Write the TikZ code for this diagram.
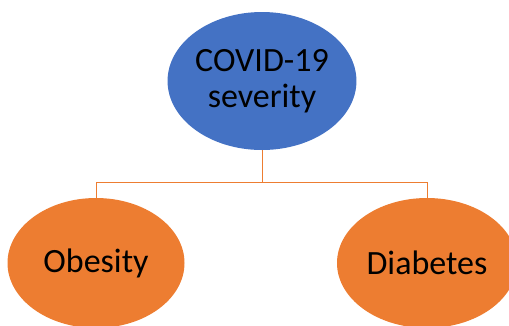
\documentclass[tikz,border=0pt]{standalone}
\usepackage{fontspec}
\setmainfont{Carlito}
\usepackage{tikz}
\usetikzlibrary{shapes.geometric}

\definecolor{officeblue}{HTML}{4472C4}
\definecolor{officeorange}{HTML}{ED7D31}

\begin{document}
\begin{tikzpicture}[x=1pt, y=-1pt,
	bubble/.style={ellipse, inner sep=0pt, align=center, font=\fontsize{34}{36}\selectfont},
	link/.style={draw=officeorange, line width=0.9pt}]
	\useasboundingbox (0, 0) rectangle (509, 325);

	\node[bubble, fill=officeblue, minimum width=180, minimum height=138] (sev) at (262, 81) {COVID-19\\severity};
	\node[bubble, fill=officeorange, minimum width=177, minimum height=130] (obe) at (96, 263) {Obesity};
	\node[bubble, fill=officeorange, minimum width=180, minimum height=130] (dia) at (427, 263) {Diabetes};

	\foreach \leaf in {obe, dia} \draw[link] (sev.south) -- ++(0, 32) -| (\leaf.north);
\end{tikzpicture}
\end{document}
